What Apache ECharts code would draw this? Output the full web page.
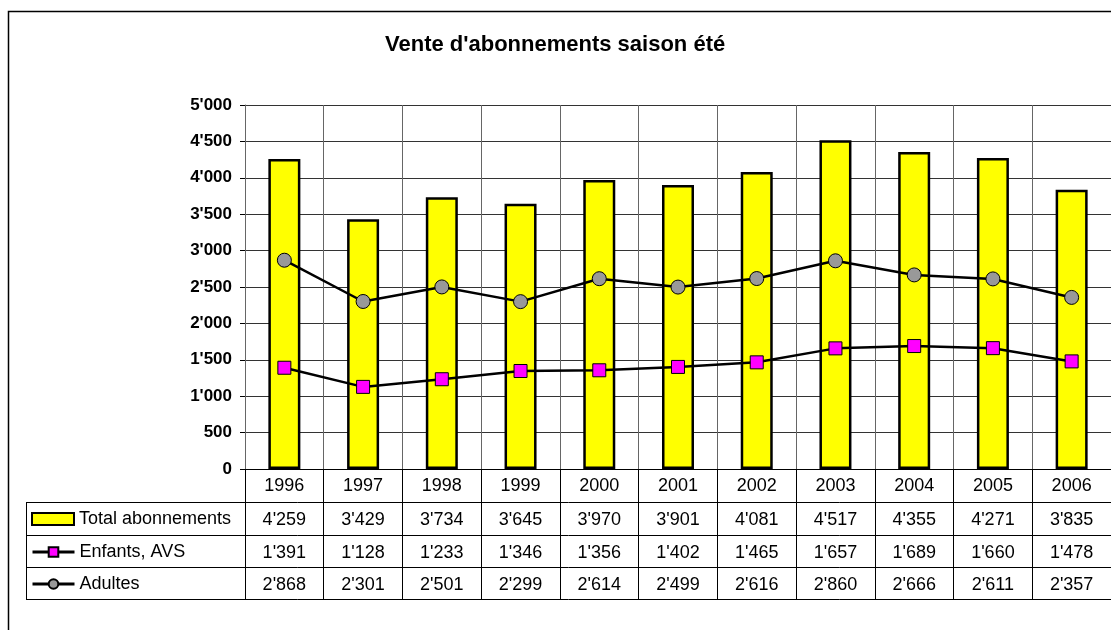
<!DOCTYPE html>
<html>
<head>
<meta charset="utf-8">
<script src="https://cdn.jsdelivr.net/npm/echarts@6/dist/echarts.min.js"></script>
<style>
  html, body { margin: 0; padding: 0; background: #fff; }
  #chart { width: 1111px; height: 630px; }
</style>
</head>
<body>
<div id="chart"></div>
<script>
let years = ['1996', '1997', '1998', '1999', '2000', '2001', '2002', '2003', '2004', '2005', '2006'];
let totalAbos = [4259, 3429, 3734, 3645, 3970, 3901, 4081, 4517, 4355, 4271, 3835];
let enfantsAvs = [1391, 1128, 1233, 1346, 1356, 1402, 1465, 1657, 1689, 1660, 1478];
let adultes = [2868, 2301, 2501, 2299, 2614, 2499, 2616, 2860, 2666, 2611, 2357];
let seriesNames = ['Total abonnements', 'Enfants, AVS', 'Adultes'];

const FONT = "'Liberation Sans', Arial, sans-serif";

// 4'259 style thousands separator
function fmt(v) {
    if (v < 1000) return String(v);
    let rest = String(v % 1000).padStart(3, '0');
    return Math.floor(v / 1000) + "'" + rest;
}

let chart = echarts.init(document.getElementById('chart'));

// one extra x axis per table row, its labels are the row values
function tableAxis(values, offset) {
    return {
        type: 'category',
        data: years,
        gridIndex: 0,
        position: 'bottom',
        offset: offset,
        axisLine: { show: false },
        axisTick: { show: false },
        splitLine: { show: false },
        axisLabel: {
            margin: 7,
            color: '#000',
            fontFamily: FONT,
            fontSize: 18,
            formatter: function (val, idx) { return fmt(values[idx]); }
        }
    };
}

// one legend per table row so each key sits in its own row
function rowLegend(name, top, icon) {
    let item = { name: name };
    if (icon) item.icon = icon;
    return {
        orient: 'horizontal',
        left: 31,
        top: top,
        padding: 0,
        itemWidth: 42,
        itemHeight: 12,
        selectedMode: false,
        lineStyle: { width: 3 },
        textStyle: { fontFamily: FONT, fontSize: 18, color: '#000' },
        data: [item]
    };
}

let tableLineStyle = { stroke: '#000', lineWidth: 1 };

let options = {
    backgroundColor: '#fff',
    animation: false,
    title: {
        text: "Vente d'abonnements saison été",
        left: 380,
        top: 29,
        textStyle: { fontFamily: FONT, fontSize: 22, fontWeight: 'bold', color: '#000' }
    },
    legend: [
        rowLegend(seriesNames[0], 510, 'rect'),
        rowLegend(seriesNames[1], 543),
        rowLegend(seriesNames[2], 575)
    ],
    grid: { left: 245, top: 105, right: -13, bottom: 161, containLabel: false },
    xAxis: [
        {
            type: 'category',
            data: years,
            axisLine: { lineStyle: { color: '#000', width: 1 } },
            axisTick: { show: true, length: 131, lineStyle: { color: '#000', width: 1 } },
            splitLine: { show: true, lineStyle: { color: '#666', width: 1 } },
            axisLabel: { margin: 8, color: '#000', fontFamily: FONT, fontSize: 18 }
        },
        tableAxis(totalAbos, 35),
        tableAxis(enfantsAvs, 68),
        tableAxis(adultes, 100)
    ],
    yAxis: {
        type: 'value',
        min: 0,
        max: 5000,
        interval: 500,
        axisLine: { show: true, lineStyle: { color: '#666', width: 1 } },
        axisTick: { show: true, length: 5, lineStyle: { color: '#000' } },
        splitLine: { lineStyle: { color: '#333', width: 1 } },
        axisLabel: {
            margin: 13,
            color: '#000',
            fontFamily: FONT,
            fontSize: 17,
            fontWeight: 'bold',
            formatter: fmt
        }
    },
    series: [
        {
            name: seriesNames[0],
            type: 'bar',
            data: totalAbos,
            barWidth: 32,
            itemStyle: { color: '#FFFF00', borderColor: '#000', borderWidth: 2.5 }
        },
        {
            name: seriesNames[1],
            type: 'line',
            data: enfantsAvs,
            symbol: 'rect',
            symbolSize: 13,
            lineStyle: { color: '#000', width: 2.5 },
            itemStyle: { color: '#FF00FF', borderColor: '#000', borderWidth: 1 }
        },
        {
            name: seriesNames[2],
            type: 'line',
            data: adultes,
            symbol: 'circle',
            symbolSize: 14,
            lineStyle: { color: '#000', width: 2.5 },
            itemStyle: { color: '#999999', borderColor: '#000', borderWidth: 1 }
        }
    ],
    graphic: [
        // frame of the whole chart
        { type: 'rect', shape: { x: 8.5, y: 11.5, width: 1200, height: 700 }, style: { fill: 'none', stroke: '#000', lineWidth: 1.5 }, silent: true },
        // data table rules
        { type: 'line', shape: { x1: 26, y1: 502.5, x2: 1111, y2: 502.5 }, style: tableLineStyle, silent: true },
        { type: 'line', shape: { x1: 26, y1: 535.5, x2: 1111, y2: 535.5 }, style: tableLineStyle, silent: true },
        { type: 'line', shape: { x1: 26, y1: 567.5, x2: 1111, y2: 567.5 }, style: tableLineStyle, silent: true },
        { type: 'line', shape: { x1: 26, y1: 599.5, x2: 1111, y2: 599.5 }, style: tableLineStyle, silent: true },
        { type: 'line', shape: { x1: 26.5, y1: 502, x2: 26.5, y2: 600 }, style: tableLineStyle, silent: true }
    ]
};
chart.setOption(options);
</script>
</body>
</html>
